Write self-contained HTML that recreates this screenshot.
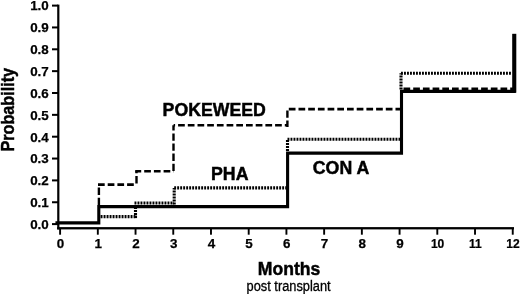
<!DOCTYPE html><html><head><meta charset="utf-8"><style>html,body{margin:0;padding:0;background:#fff;}svg{display:block;filter:grayscale(1)}</style></head><body>
<svg width="520" height="294" viewBox="0 0 520 294">
<rect width="520" height="294" fill="#fff"/>
<rect x="57.2" y="4.6" width="2.2" height="224.8" fill="#000"/>
<rect x="57.2" y="227.1" width="456.8" height="2.3" fill="#000"/>
<rect x="52" y="223.10" width="6" height="2" fill="#000"/>
<rect x="52" y="201.25" width="6" height="2" fill="#000"/>
<rect x="52" y="179.40" width="6" height="2" fill="#000"/>
<rect x="52" y="157.55" width="6" height="2" fill="#000"/>
<rect x="52" y="135.70" width="6" height="2" fill="#000"/>
<rect x="52" y="113.85" width="6" height="2" fill="#000"/>
<rect x="52" y="92.00" width="6" height="2" fill="#000"/>
<rect x="52" y="70.15" width="6" height="2" fill="#000"/>
<rect x="52" y="48.30" width="6" height="2" fill="#000"/>
<rect x="52" y="26.45" width="6" height="2" fill="#000"/>
<rect x="52" y="4.60" width="6" height="2" fill="#000"/>
<rect x="59.15" y="228" width="1.9" height="6.7" fill="#000"/>
<rect x="96.87" y="228" width="1.9" height="6.7" fill="#000"/>
<rect x="134.59" y="228" width="1.9" height="6.7" fill="#000"/>
<rect x="172.31" y="228" width="1.9" height="6.7" fill="#000"/>
<rect x="210.03" y="228" width="1.9" height="6.7" fill="#000"/>
<rect x="247.75" y="228" width="1.9" height="6.7" fill="#000"/>
<rect x="285.47" y="228" width="1.9" height="6.7" fill="#000"/>
<rect x="323.19" y="228" width="1.9" height="6.7" fill="#000"/>
<rect x="360.91" y="228" width="1.9" height="6.7" fill="#000"/>
<rect x="398.63" y="228" width="1.9" height="6.7" fill="#000"/>
<rect x="436.35" y="228" width="1.9" height="6.7" fill="#000"/>
<rect x="474.07" y="228" width="1.9" height="6.7" fill="#000"/>
<rect x="511.79" y="228" width="1.9" height="6.7" fill="#000"/>
<g font-family="Liberation Sans, sans-serif" font-weight="bold" font-size="13.4" fill="#000" stroke="#000" stroke-width="0.25">
<text x="48.8" y="228.95" text-anchor="end">0.0</text>
<text x="48.8" y="207.10" text-anchor="end">0.1</text>
<text x="48.8" y="185.25" text-anchor="end">0.2</text>
<text x="48.8" y="163.40" text-anchor="end">0.3</text>
<text x="48.8" y="141.55" text-anchor="end">0.4</text>
<text x="48.8" y="119.70" text-anchor="end">0.5</text>
<text x="48.8" y="97.85" text-anchor="end">0.6</text>
<text x="48.8" y="76.00" text-anchor="end">0.7</text>
<text x="48.8" y="54.15" text-anchor="end">0.8</text>
<text x="48.8" y="32.30" text-anchor="end">0.9</text>
<text x="48.8" y="10.45" text-anchor="end">1.0</text>
<text x="60.50" y="248.2" text-anchor="middle">0</text>
<text x="98.22" y="248.2" text-anchor="middle">1</text>
<text x="135.94" y="248.2" text-anchor="middle">2</text>
<text x="173.66" y="248.2" text-anchor="middle">3</text>
<text x="211.38" y="248.2" text-anchor="middle">4</text>
<text x="249.10" y="248.2" text-anchor="middle">5</text>
<text x="286.82" y="248.2" text-anchor="middle">6</text>
<text x="324.54" y="248.2" text-anchor="middle">7</text>
<text x="362.26" y="248.2" text-anchor="middle">8</text>
<text x="399.98" y="248.2" text-anchor="middle">9</text>
<text transform="translate(437.60 248.2) scale(0.9 1)" x="0" y="0" text-anchor="middle">10</text>
<text transform="translate(475.32 248.2) scale(0.9 1)" x="0" y="0" text-anchor="middle">11</text>
<text transform="translate(513.04 248.2) scale(0.9 1)" x="0" y="0" text-anchor="middle">12</text>
</g>
<path d="M57.00 222.90 L98.80 222.90 L98.80 206.60 L287.60 206.60 L287.60 153.10 L401.50 153.10 L401.50 91.40 L514.20 91.40 L514.20 35.50" fill="none" stroke="#000" stroke-width="3.1" stroke-linejoin="miter" stroke-linecap="square"/>
<g>
<line x1="98.90" y1="207.00" x2="98.90" y2="184.70" stroke="#000" stroke-width="2.4" stroke-dasharray="7.3 2.80" stroke-dashoffset="8.10"/>
<line x1="97.60" y1="184.60" x2="136.50" y2="184.60" stroke="#000" stroke-width="2.6" stroke-dasharray="6.7 3.00" stroke-dashoffset="9.30"/>
<line x1="136.50" y1="184.60" x2="136.50" y2="171.20" stroke="#000" stroke-width="2.4" stroke-dasharray="7.3 2.80" stroke-dashoffset="8.90"/>
<line x1="135.20" y1="171.20" x2="173.60" y2="171.20" stroke="#000" stroke-width="2.6" stroke-dasharray="6.7 3.00" stroke-dashoffset="0.70"/>
<line x1="173.50" y1="171.20" x2="173.50" y2="125.20" stroke="#000" stroke-width="2.4" stroke-dasharray="7.3 2.80" stroke-dashoffset="9.90"/>
<line x1="173.60" y1="125.30" x2="287.50" y2="125.30" stroke="#000" stroke-width="2.6" stroke-dasharray="6.7 3.00" stroke-dashoffset="5.20"/>
<line x1="287.40" y1="127.00" x2="287.40" y2="109.00" stroke="#000" stroke-width="2.4" stroke-dasharray="7.3 2.80" stroke-dashoffset="0.90"/>
<line x1="288.50" y1="109.10" x2="401.00" y2="109.10" stroke="#000" stroke-width="2.6" stroke-dasharray="6.7 3.00" stroke-dashoffset="9.40"/>
<line x1="402.00" y1="88.70" x2="514.00" y2="88.70" stroke="#000" stroke-width="2.6" stroke-dasharray="6.7 3.00" stroke-dashoffset="8.20"/>
</g>
<g>
<line x1="100.60" y1="216.60" x2="137.00" y2="216.60" stroke="#000" stroke-width="3.1" stroke-dasharray="1.9 1.10"/>
<line x1="135.50" y1="218.00" x2="135.50" y2="205.00" stroke="#000" stroke-width="3.1" stroke-dasharray="1.9 1.10"/>
<line x1="134.50" y1="203.00" x2="174.00" y2="203.00" stroke="#000" stroke-width="3.1" stroke-dasharray="1.9 1.10"/>
<line x1="174.20" y1="204.50" x2="174.20" y2="188.00" stroke="#000" stroke-width="3.1" stroke-dasharray="1.9 1.10"/>
<line x1="174.20" y1="187.90" x2="287.50" y2="187.90" stroke="#000" stroke-width="3.1" stroke-dasharray="1.9 1.10"/>
<line x1="287.50" y1="151.00" x2="287.50" y2="139.20" stroke="#000" stroke-width="3.1" stroke-dasharray="1.9 1.10"/>
<line x1="287.50" y1="139.20" x2="401.00" y2="139.20" stroke="#000" stroke-width="3.1" stroke-dasharray="1.9 1.10"/>
<line x1="401.00" y1="89.50" x2="401.00" y2="73.30" stroke="#000" stroke-width="3.1" stroke-dasharray="1.9 1.10"/>
<line x1="401.00" y1="73.30" x2="511.00" y2="73.30" stroke="#000" stroke-width="3.1" stroke-dasharray="1.9 1.10"/>
</g>
<rect x="512.3" y="33.8" width="4" height="58.9" fill="#000"/>
<g font-family="Liberation Sans, sans-serif" font-weight="bold" font-size="18" fill="#000" stroke="#000" stroke-width="0.45">
<text x="162.6" y="116.4" textLength="103.2" lengthAdjust="spacingAndGlyphs">POKEWEED</text>
<text x="211" y="180.2" textLength="37.5" lengthAdjust="spacingAndGlyphs">PHA</text>
<text x="312.8" y="174.4" textLength="56.5" lengthAdjust="spacingAndGlyphs">CON A</text>
<text x="257.8" y="275" textLength="62.5" lengthAdjust="spacingAndGlyphs">Months</text>
<text transform="translate(14.3 151.5) rotate(-90)" x="0" y="0" textLength="83.5" lengthAdjust="spacingAndGlyphs">Probability</text>
</g>
<text x="246.6" y="290.9" font-family="Liberation Sans, sans-serif" font-size="14" textLength="84" lengthAdjust="spacingAndGlyphs" fill="#000" stroke="#000" stroke-width="0.3">post transplant</text>
</svg></body></html>
